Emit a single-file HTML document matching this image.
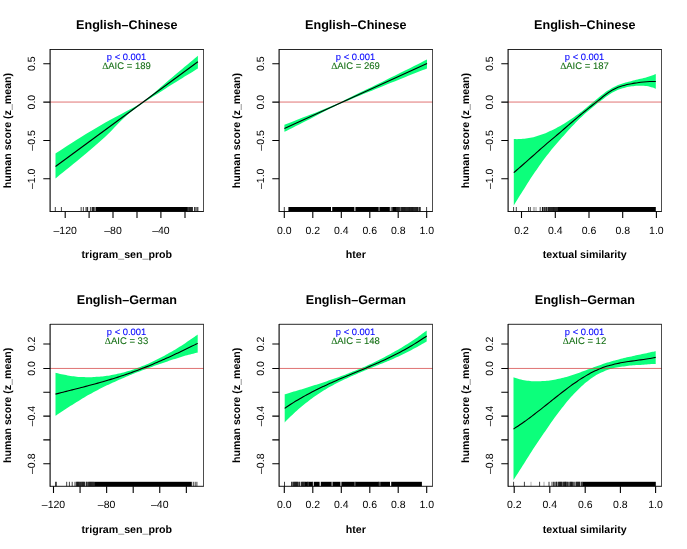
<!DOCTYPE html>
<html>
<head>
<meta charset="utf-8">
<title>GAM smooth plots</title>
<style>
html, body { margin: 0; padding: 0; background: #ffffff; }
body { width: 687px; height: 549px; overflow: hidden; font-family: "Liberation Sans", sans-serif; }
svg { display: block; will-change: transform; }
svg text { font-family: "Liberation Sans", sans-serif; text-rendering: geometricPrecision; }
</style>
</head>
<body>
<svg width="687" height="549" viewBox="0 0 687 549">
<rect x="0" y="0" width="687" height="549" fill="#ffffff"/>
<clipPath id="c00"><rect x="50.10" y="49.50" width="153.40" height="162.00"/></clipPath>
<text x="126.80" y="28.70" font-size="12.6" font-weight="bold" text-anchor="middle">English–Chinese</text>
<g clip-path="url(#c00)">
<path d="M55.50 153.60 C59.58 150.97 71.75 142.93 80.00 137.80 C88.25 132.67 97.50 127.12 105.00 122.80 C112.50 118.48 119.17 115.08 125.00 111.90 C130.83 108.72 135.83 106.32 140.00 103.70 C144.17 101.08 145.83 99.57 150.00 96.20 C154.17 92.83 160.00 87.73 165.00 83.50 C170.00 79.27 174.52 75.42 180.00 70.80 C185.48 66.18 194.92 58.30 197.90 55.80 L197.90 68.60 C194.92 70.43 185.48 76.20 180.00 79.60 C174.52 83.00 170.00 85.85 165.00 89.00 C160.00 92.15 154.17 95.78 150.00 98.50 C145.83 101.22 144.17 102.23 140.00 105.30 C135.83 108.37 130.83 111.63 125.00 116.90 C119.17 122.17 112.50 129.95 105.00 136.90 C97.50 143.85 88.25 151.67 80.00 158.60 C71.75 165.53 59.58 175.18 55.50 178.50 Z" fill="#0cff7b"/>
</g>
<path d="M50.10 102.05H203.50" stroke="#d23c3c" stroke-width="0.85" opacity="0.85" fill="none"/>
<g clip-path="url(#c00)"><path d="M55.50 166.50 L197.90 61.80" fill="none" stroke="#000" stroke-width="1.1"/></g>
<rect x="95.50" y="207.00" width="92.00" height="4.50" fill="#000"/>
<path d="M55.30 207.00V211.50M61.40 207.00V211.50M81.15 207.00V211.50M83.35 207.00V211.50M86.00 207.00V211.50M87.10 207.00V211.50M87.65 207.00V211.50M90.40 207.00V211.50M92.05 207.00V211.50M92.60 207.00V211.50M93.15 207.00V211.50M93.70 207.00V211.50M94.25 207.00V211.50M187.50 207.00V211.50M188.60 207.00V211.50M189.15 207.00V211.50M189.70 207.00V211.50M190.25 207.00V211.50M190.80 207.00V211.50M191.35 207.00V211.50M191.90 207.00V211.50M192.45 207.00V211.50M194.50 207.00V211.50M195.80 207.00V211.50M197.00 207.00V211.50M197.90 207.00V211.50" stroke="#000" stroke-width="0.75" fill="none"/>
<path d="M50.10 49.10V211.90" stroke="#000" stroke-width="1.1" fill="none"/>
<path d="M50.10 49.50H203.85" stroke="#000" stroke-width="0.85" fill="none"/>
<path d="M203.50 49.50V211.90" stroke="#000" stroke-width="0.7" fill="none"/>
<path d="M50.10 211.50H203.50" stroke="#000" stroke-width="0.9" fill="none"/>
<path d="M65.20 211.50v6.6M89.10 211.50v6.6M113.00 211.50v6.6M137.00 211.50v6.6M160.90 211.50v6.6M185.00 211.50v6.6" stroke="#000" stroke-width="1.1" fill="none"/>
<text x="65.20" y="233.50" font-size="10.5" text-anchor="middle">–120</text>
<text x="113.00" y="233.50" font-size="10.5" text-anchor="middle">–80</text>
<text x="160.90" y="233.50" font-size="10.5" text-anchor="middle">–40</text>
<path d="M50.10 63.70h-6.8M50.10 102.10h-6.8M50.10 140.45h-6.8M50.10 178.80h-6.8" stroke="#000" stroke-width="1.1" fill="none"/>
<text transform="translate(35.45 63.70) rotate(-90)" font-size="10.5" text-anchor="middle">0.5</text>
<text transform="translate(35.45 102.10) rotate(-90)" font-size="10.5" text-anchor="middle">0.0</text>
<text transform="translate(35.45 140.45) rotate(-90)" font-size="10.5" text-anchor="middle">–0.5</text>
<text transform="translate(35.45 178.80) rotate(-90)" font-size="10.5" text-anchor="middle">–1.0</text>
<text x="126.80" y="258.00" font-size="10.65" font-weight="bold" text-anchor="middle">trigram_sen_prob</text>
<text transform="translate(11.20 130.50) rotate(-90)" font-size="10.65" font-weight="bold" text-anchor="middle">human score (z_mean)</text>
<text x="126.50" y="60.10" font-size="9.4" fill="#0000ff" stroke="#0000ff" stroke-width="0.08" text-anchor="middle">p &lt; 0.001</text>
<text x="126.50" y="68.70" font-size="9.52" fill="#156f15" stroke="#156f15" stroke-width="0.08" text-anchor="middle"><tspan font-family="Liberation Serif, serif">&#916;</tspan>AIC = 189</text>
<clipPath id="c10"><rect x="279.10" y="49.50" width="153.40" height="162.00"/></clipPath>
<text x="355.80" y="28.70" font-size="12.6" font-weight="bold" text-anchor="middle">English–Chinese</text>
<g clip-path="url(#c10)">
<path d="M284.40 124.80 C288.67 123.13 302.40 117.82 310.00 114.80 C317.60 111.78 324.58 108.97 330.00 106.70 C335.42 104.43 337.50 103.55 342.50 101.20 C347.50 98.85 352.92 96.07 360.00 92.60 C367.08 89.13 377.50 84.08 385.00 80.40 C392.50 76.72 398.00 74.00 405.00 70.50 C412.00 67.00 423.33 61.25 427.00 59.40 L427.00 68.60 C423.33 70.03 412.00 74.43 405.00 77.20 C398.00 79.97 392.50 82.17 385.00 85.20 C377.50 88.23 367.08 92.48 360.00 95.40 C352.92 98.32 347.50 100.50 342.50 102.70 C337.50 104.90 335.42 105.90 330.00 108.60 C324.58 111.30 317.60 115.03 310.00 118.90 C302.40 122.77 288.67 129.65 284.40 131.80 Z" fill="#0cff7b"/>
</g>
<path d="M279.10 102.05H432.50" stroke="#d23c3c" stroke-width="0.85" opacity="0.85" fill="none"/>
<g clip-path="url(#c10)"><path d="M284.40 128.50 L427.00 63.60" fill="none" stroke="#000" stroke-width="1.1"/></g>
<rect x="288.40" y="207.00" width="42.60" height="4.50" fill="#000"/>
<rect x="332.20" y="207.00" width="21.80" height="4.50" fill="#000"/>
<rect x="355.40" y="207.00" width="22.60" height="4.50" fill="#000"/>
<rect x="379.40" y="207.00" width="9.60" height="4.50" fill="#000"/>
<rect x="392.50" y="207.00" width="3.50" height="4.50" fill="#000"/>
<path d="M284.30 207.00V211.50M354.00 207.00V211.50M378.55 207.00V211.50M389.00 207.00V211.50M389.55 207.00V211.50M391.20 207.00V211.50M392.30 207.00V211.50M396.00 207.00V211.50M396.55 207.00V211.50M397.00 207.00V211.50M397.55 207.00V211.50M398.10 207.00V211.50M398.65 207.00V211.50M399.20 207.00V211.50M399.75 207.00V211.50M400.85 207.00V211.50M401.40 207.00V211.50M401.95 207.00V211.50M402.50 207.00V211.50M403.05 207.00V211.50M403.60 207.00V211.50M404.00 207.00V211.50M404.55 207.00V211.50M405.10 207.00V211.50M405.65 207.00V211.50M406.20 207.00V211.50M406.75 207.00V211.50M407.30 207.00V211.50M407.85 207.00V211.50M408.40 207.00V211.50M408.95 207.00V211.50M409.50 207.00V211.50M410.05 207.00V211.50M410.60 207.00V211.50M411.15 207.00V211.50M411.70 207.00V211.50M412.00 207.00V211.50M412.55 207.00V211.50M413.10 207.00V211.50M413.65 207.00V211.50M414.20 207.00V211.50M414.75 207.00V211.50M415.30 207.00V211.50M415.85 207.00V211.50M416.40 207.00V211.50M416.95 207.00V211.50M417.50 207.00V211.50M418.05 207.00V211.50M419.15 207.00V211.50M419.70 207.00V211.50M420.25 207.00V211.50M426.60 207.00V211.50" stroke="#000" stroke-width="0.75" fill="none"/>
<path d="M279.10 49.10V211.90" stroke="#000" stroke-width="1.1" fill="none"/>
<path d="M279.10 49.50H432.85" stroke="#000" stroke-width="0.85" fill="none"/>
<path d="M432.50 49.50V211.90" stroke="#000" stroke-width="0.7" fill="none"/>
<path d="M279.10 211.50H432.50" stroke="#000" stroke-width="0.9" fill="none"/>
<path d="M284.30 211.50v6.6M312.80 211.50v6.6M341.30 211.50v6.6M369.80 211.50v6.6M398.20 211.50v6.6M426.70 211.50v6.6" stroke="#000" stroke-width="1.1" fill="none"/>
<text x="284.30" y="233.50" font-size="10.5" text-anchor="middle">0.0</text>
<text x="312.80" y="233.50" font-size="10.5" text-anchor="middle">0.2</text>
<text x="341.30" y="233.50" font-size="10.5" text-anchor="middle">0.4</text>
<text x="369.80" y="233.50" font-size="10.5" text-anchor="middle">0.6</text>
<text x="398.20" y="233.50" font-size="10.5" text-anchor="middle">0.8</text>
<text x="426.70" y="233.50" font-size="10.5" text-anchor="middle">1.0</text>
<path d="M279.10 63.70h-6.8M279.10 102.10h-6.8M279.10 140.45h-6.8M279.10 178.80h-6.8" stroke="#000" stroke-width="1.1" fill="none"/>
<text transform="translate(264.45 63.70) rotate(-90)" font-size="10.5" text-anchor="middle">0.5</text>
<text transform="translate(264.45 102.10) rotate(-90)" font-size="10.5" text-anchor="middle">0.0</text>
<text transform="translate(264.45 140.45) rotate(-90)" font-size="10.5" text-anchor="middle">–0.5</text>
<text transform="translate(264.45 178.80) rotate(-90)" font-size="10.5" text-anchor="middle">–1.0</text>
<text x="355.80" y="258.00" font-size="10.65" font-weight="bold" text-anchor="middle">hter</text>
<text transform="translate(240.20 130.50) rotate(-90)" font-size="10.65" font-weight="bold" text-anchor="middle">human score (z_mean)</text>
<text x="355.50" y="60.10" font-size="9.4" fill="#0000ff" stroke="#0000ff" stroke-width="0.08" text-anchor="middle">p &lt; 0.001</text>
<text x="355.50" y="68.70" font-size="9.52" fill="#156f15" stroke="#156f15" stroke-width="0.08" text-anchor="middle"><tspan font-family="Liberation Serif, serif">&#916;</tspan>AIC = 269</text>
<clipPath id="c20"><rect x="508.10" y="49.50" width="153.40" height="162.00"/></clipPath>
<text x="584.80" y="28.70" font-size="12.6" font-weight="bold" text-anchor="middle">English–Chinese</text>
<g clip-path="url(#c20)">
<path d="M513.80 139.07 C514.30 139.08 515.81 139.14 516.82 139.14 C517.83 139.14 518.84 139.12 519.84 139.07 C520.85 139.02 521.86 138.95 522.86 138.85 C523.87 138.76 524.88 138.64 525.89 138.50 C526.89 138.36 527.90 138.19 528.91 138.01 C529.91 137.82 530.92 137.62 531.93 137.39 C532.93 137.16 533.94 136.91 534.95 136.64 C535.96 136.37 536.96 136.08 537.97 135.77 C538.98 135.46 539.98 135.12 540.99 134.77 C542.00 134.42 543.01 134.05 544.01 133.66 C545.02 133.28 546.03 132.87 547.03 132.44 C548.04 132.01 549.05 131.57 550.06 131.11 C551.06 130.65 552.07 130.17 553.08 129.67 C554.08 129.17 555.09 128.66 556.10 128.13 C557.10 127.60 558.11 127.05 559.12 126.48 C560.13 125.92 561.13 125.34 562.14 124.75 C563.15 124.15 564.15 123.54 565.16 122.91 C566.17 122.29 567.18 121.65 568.18 120.99 C569.19 120.34 570.20 119.67 571.20 118.99 C572.21 118.30 573.22 117.60 574.23 116.89 C575.23 116.18 576.24 115.46 577.25 114.72 C578.25 113.99 579.26 113.24 580.27 112.47 C581.28 111.71 582.28 110.94 583.29 110.15 C584.30 109.37 585.30 108.57 586.31 107.76 C587.32 106.96 588.32 106.14 589.33 105.31 C590.34 104.49 591.35 103.66 592.35 102.83 C593.36 102.00 594.37 101.16 595.37 100.33 C596.38 99.49 597.39 98.66 598.40 97.83 C599.40 97.00 600.41 96.16 601.42 95.35 C602.42 94.54 603.43 93.72 604.44 92.96 C605.45 92.21 606.45 91.48 607.46 90.81 C608.47 90.13 609.47 89.51 610.48 88.92 C611.49 88.33 612.50 87.79 613.50 87.28 C614.51 86.77 615.52 86.30 616.52 85.86 C617.53 85.42 618.54 85.01 619.54 84.62 C620.55 84.24 621.56 83.89 622.57 83.55 C623.57 83.21 624.58 82.91 625.59 82.61 C626.59 82.31 627.60 82.04 628.61 81.77 C629.62 81.50 630.62 81.25 631.63 81.00 C632.64 80.76 633.64 80.52 634.65 80.29 C635.66 80.05 636.67 79.82 637.67 79.58 C638.68 79.35 639.69 79.11 640.69 78.87 C641.70 78.62 642.71 78.38 643.71 78.11 C644.72 77.85 645.73 77.58 646.74 77.29 C647.74 77.00 648.75 76.70 649.76 76.37 C650.76 76.04 651.77 75.70 652.78 75.32 C653.79 74.95 655.30 74.32 655.80 74.12 L655.80 88.88 C655.30 88.67 653.79 87.96 652.78 87.60 C651.77 87.23 650.76 86.93 649.76 86.68 C648.75 86.43 647.74 86.24 646.74 86.09 C645.73 85.93 644.72 85.83 643.71 85.76 C642.71 85.69 641.70 85.66 640.69 85.65 C639.69 85.64 638.68 85.67 637.67 85.71 C636.67 85.76 635.66 85.83 634.65 85.92 C633.64 86.02 632.64 86.14 631.63 86.28 C630.62 86.42 629.62 86.58 628.61 86.77 C627.60 86.95 626.59 87.16 625.59 87.39 C624.58 87.63 623.57 87.89 622.57 88.19 C621.56 88.49 620.55 88.81 619.54 89.18 C618.54 89.55 617.53 89.96 616.52 90.41 C615.52 90.86 614.51 91.35 613.50 91.89 C612.50 92.43 611.49 93.03 610.48 93.66 C609.47 94.29 608.47 94.98 607.46 95.69 C606.45 96.40 605.45 97.14 604.44 97.90 C603.43 98.65 602.42 99.43 601.42 100.22 C600.41 101.00 599.40 101.81 598.40 102.61 C597.39 103.41 596.38 104.21 595.37 105.02 C594.37 105.82 593.36 106.62 592.35 107.44 C591.35 108.26 590.34 109.08 589.33 109.92 C588.32 110.76 587.32 111.61 586.31 112.48 C585.30 113.36 584.30 114.26 583.29 115.18 C582.28 116.11 581.28 117.06 580.27 118.04 C579.26 119.01 578.25 120.01 577.25 121.03 C576.24 122.04 575.23 123.08 574.23 124.13 C573.22 125.18 572.21 126.26 571.20 127.34 C570.20 128.42 569.19 129.52 568.18 130.62 C567.18 131.73 566.17 132.85 565.16 133.97 C564.15 135.09 563.15 136.23 562.14 137.36 C561.13 138.50 560.13 139.65 559.12 140.80 C558.11 141.96 557.10 143.12 556.10 144.30 C555.09 145.47 554.08 146.66 553.08 147.87 C552.07 149.08 551.06 150.30 550.06 151.55 C549.05 152.80 548.04 154.07 547.03 155.37 C546.03 156.67 545.02 158.00 544.01 159.34 C543.01 160.69 542.00 162.07 540.99 163.46 C539.98 164.86 538.98 166.28 537.97 167.71 C536.96 169.15 535.96 170.61 534.95 172.09 C533.94 173.57 532.93 175.07 531.93 176.59 C530.92 178.11 529.91 179.65 528.91 181.20 C527.90 182.75 526.89 184.32 525.89 185.90 C524.88 187.49 523.87 189.09 522.86 190.70 C521.86 192.31 520.85 193.94 519.84 195.58 C518.84 197.21 517.83 198.87 516.82 200.53 C515.81 202.19 514.30 204.70 513.80 205.54 Z" fill="#0cff7b"/>
</g>
<path d="M508.10 102.05H661.50" stroke="#d23c3c" stroke-width="0.85" opacity="0.85" fill="none"/>
<g clip-path="url(#c20)"><path d="M513.80 172.62 C514.30 172.19 515.81 170.91 516.82 170.04 C517.83 169.18 518.84 168.31 519.84 167.43 C520.85 166.55 521.86 165.67 522.86 164.78 C523.87 163.90 524.88 163.01 525.89 162.12 C526.89 161.22 527.90 160.33 528.91 159.43 C529.91 158.54 530.92 157.64 531.93 156.74 C532.93 155.84 533.94 154.95 534.95 154.05 C535.96 153.16 536.96 152.26 537.97 151.37 C538.98 150.48 539.98 149.59 540.99 148.70 C542.00 147.82 543.01 146.94 544.01 146.06 C545.02 145.19 546.03 144.32 547.03 143.45 C548.04 142.59 549.05 141.74 550.06 140.88 C551.06 140.03 552.07 139.18 553.08 138.33 C554.08 137.49 555.09 136.64 556.10 135.79 C557.10 134.94 558.11 134.09 559.12 133.23 C560.13 132.37 561.13 131.51 562.14 130.64 C563.15 129.78 564.15 128.91 565.16 128.03 C566.17 127.16 567.18 126.29 568.18 125.41 C569.19 124.54 570.20 123.67 571.20 122.79 C572.21 121.92 573.22 121.05 574.23 120.18 C575.23 119.32 576.24 118.45 577.25 117.60 C578.25 116.74 579.26 115.89 580.27 115.04 C581.28 114.20 582.28 113.36 583.29 112.53 C584.30 111.71 585.30 110.89 586.31 110.08 C587.32 109.27 588.32 108.47 589.33 107.66 C590.34 106.86 591.35 106.07 592.35 105.26 C593.36 104.46 594.37 103.66 595.37 102.85 C596.38 102.04 597.39 101.22 598.40 100.41 C599.40 99.59 600.41 98.76 601.42 97.95 C602.42 97.14 603.43 96.33 604.44 95.56 C605.45 94.78 606.45 94.02 607.46 93.30 C608.47 92.59 609.47 91.89 610.48 91.26 C611.49 90.63 612.50 90.04 613.50 89.50 C614.51 88.97 615.52 88.49 616.52 88.04 C617.53 87.60 618.54 87.20 619.54 86.83 C620.55 86.47 621.56 86.14 622.57 85.84 C623.57 85.53 624.58 85.26 625.59 85.01 C626.59 84.75 627.60 84.52 628.61 84.30 C629.62 84.08 630.62 83.87 631.63 83.68 C632.64 83.49 633.64 83.31 634.65 83.14 C635.66 82.97 636.67 82.81 637.67 82.67 C638.68 82.52 639.69 82.39 640.69 82.27 C641.70 82.16 642.71 82.05 643.71 81.96 C644.72 81.86 645.73 81.78 646.74 81.71 C647.74 81.64 648.75 81.59 649.76 81.54 C650.76 81.50 651.77 81.47 652.78 81.45 C653.79 81.43 655.30 81.44 655.80 81.44" fill="none" stroke="#000" stroke-width="1.1"/></g>
<path d="M533.40 207.00V211.50" stroke="#000" stroke-width="0.75" opacity="0.4" fill="none"/>
<path d="M534.80 207.00V211.50" stroke="#000" stroke-width="0.75" opacity="0.5" fill="none"/>
<path d="M536.20 207.00V211.50" stroke="#000" stroke-width="0.75" opacity="0.4" fill="none"/>
<rect x="557.50" y="207.00" width="98.30" height="4.50" fill="#000"/>
<path d="M513.60 207.00V211.50M516.30 207.00V211.50M528.50 207.00V211.50M530.30 207.00V211.50M540.20 207.00V211.50M542.40 207.00V211.50M542.50 207.00V211.50M543.05 207.00V211.50M544.15 207.00V211.50M544.70 207.00V211.50M545.80 207.00V211.50M546.35 207.00V211.50M546.90 207.00V211.50M548.00 207.00V211.50M548.55 207.00V211.50M549.10 207.00V211.50M549.65 207.00V211.50M550.20 207.00V211.50M550.75 207.00V211.50M551.30 207.00V211.50M551.85 207.00V211.50M552.40 207.00V211.50M552.95 207.00V211.50M553.50 207.00V211.50M554.05 207.00V211.50M554.60 207.00V211.50M555.15 207.00V211.50M555.70 207.00V211.50M556.25 207.00V211.50M556.80 207.00V211.50M557.35 207.00V211.50" stroke="#000" stroke-width="0.75" fill="none"/>
<path d="M508.10 49.10V211.90" stroke="#000" stroke-width="1.1" fill="none"/>
<path d="M508.10 49.50H661.85" stroke="#000" stroke-width="0.85" fill="none"/>
<path d="M661.50 49.50V211.90" stroke="#000" stroke-width="0.7" fill="none"/>
<path d="M508.10 211.50H661.50" stroke="#000" stroke-width="0.9" fill="none"/>
<path d="M521.50 211.50v6.6M555.30 211.50v6.6M589.00 211.50v6.6M622.70 211.50v6.6M656.40 211.50v6.6" stroke="#000" stroke-width="1.1" fill="none"/>
<text x="521.50" y="233.50" font-size="10.5" text-anchor="middle">0.2</text>
<text x="555.30" y="233.50" font-size="10.5" text-anchor="middle">0.4</text>
<text x="589.00" y="233.50" font-size="10.5" text-anchor="middle">0.6</text>
<text x="622.70" y="233.50" font-size="10.5" text-anchor="middle">0.8</text>
<text x="656.40" y="233.50" font-size="10.5" text-anchor="middle">1.0</text>
<path d="M508.10 63.70h-6.8M508.10 102.10h-6.8M508.10 140.45h-6.8M508.10 178.80h-6.8" stroke="#000" stroke-width="1.1" fill="none"/>
<text transform="translate(493.45 63.70) rotate(-90)" font-size="10.5" text-anchor="middle">0.5</text>
<text transform="translate(493.45 102.10) rotate(-90)" font-size="10.5" text-anchor="middle">0.0</text>
<text transform="translate(493.45 140.45) rotate(-90)" font-size="10.5" text-anchor="middle">–0.5</text>
<text transform="translate(493.45 178.80) rotate(-90)" font-size="10.5" text-anchor="middle">–1.0</text>
<text x="584.80" y="258.00" font-size="10.65" font-weight="bold" text-anchor="middle">textual similarity</text>
<text transform="translate(469.20 130.50) rotate(-90)" font-size="10.65" font-weight="bold" text-anchor="middle">human score (z_mean)</text>
<text x="584.50" y="60.10" font-size="9.4" fill="#0000ff" stroke="#0000ff" stroke-width="0.08" text-anchor="middle">p &lt; 0.001</text>
<text x="584.50" y="68.70" font-size="9.52" fill="#156f15" stroke="#156f15" stroke-width="0.08" text-anchor="middle"><tspan font-family="Liberation Serif, serif">&#916;</tspan>AIC = 187</text>
<clipPath id="c01"><rect x="50.10" y="324.30" width="153.40" height="162.00"/></clipPath>
<text x="126.80" y="304.10" font-size="12.6" font-weight="bold" text-anchor="middle">English–German</text>
<g clip-path="url(#c01)">
<path d="M55.50 372.63 C56.00 372.76 57.52 373.19 58.53 373.44 C59.53 373.70 60.54 373.95 61.55 374.18 C62.56 374.41 63.57 374.63 64.58 374.83 C65.59 375.04 66.59 375.23 67.60 375.40 C68.61 375.58 69.62 375.74 70.63 375.90 C71.64 376.05 72.64 376.18 73.65 376.31 C74.66 376.43 75.67 376.55 76.68 376.65 C77.69 376.74 78.70 376.83 79.70 376.90 C80.71 376.98 81.72 377.04 82.73 377.08 C83.74 377.13 84.75 377.17 85.76 377.19 C86.76 377.21 87.77 377.22 88.78 377.22 C89.79 377.22 90.80 377.20 91.81 377.18 C92.81 377.15 93.82 377.11 94.83 377.06 C95.84 377.01 96.85 376.94 97.86 376.87 C98.87 376.79 99.87 376.70 100.88 376.60 C101.89 376.50 102.90 376.39 103.91 376.27 C104.92 376.14 105.93 376.01 106.93 375.86 C107.94 375.71 108.95 375.56 109.96 375.39 C110.97 375.22 111.98 375.03 112.99 374.84 C113.99 374.65 115.00 374.44 116.01 374.23 C117.02 374.01 118.03 373.78 119.04 373.54 C120.04 373.31 121.05 373.06 122.06 372.80 C123.07 372.54 124.08 372.26 125.09 371.98 C126.10 371.70 127.10 371.41 128.11 371.10 C129.12 370.80 130.13 370.48 131.14 370.16 C132.15 369.83 133.16 369.49 134.16 369.15 C135.17 368.80 136.18 368.44 137.19 368.07 C138.20 367.70 139.21 367.33 140.21 366.94 C141.22 366.55 142.23 366.15 143.24 365.74 C144.25 365.33 145.26 364.91 146.27 364.48 C147.27 364.05 148.28 363.61 149.29 363.16 C150.30 362.71 151.31 362.25 152.32 361.78 C153.33 361.32 154.33 360.84 155.34 360.35 C156.35 359.86 157.36 359.36 158.37 358.85 C159.38 358.34 160.39 357.83 161.39 357.30 C162.40 356.77 163.41 356.24 164.42 355.69 C165.43 355.14 166.44 354.59 167.44 354.02 C168.45 353.46 169.46 352.89 170.47 352.30 C171.48 351.72 172.49 351.13 173.50 350.53 C174.50 349.93 175.51 349.32 176.52 348.70 C177.53 348.08 178.54 347.45 179.55 346.82 C180.56 346.18 181.56 345.54 182.57 344.89 C183.58 344.23 184.59 343.57 185.60 342.90 C186.61 342.23 187.61 341.55 188.62 340.86 C189.63 340.18 190.64 339.48 191.65 338.78 C192.66 338.07 193.67 337.36 194.67 336.64 C195.68 335.92 197.20 334.82 197.70 334.46 L197.70 352.45 C197.20 352.57 195.68 352.92 194.67 353.16 C193.67 353.41 192.66 353.66 191.65 353.93 C190.64 354.19 189.63 354.46 188.62 354.74 C187.61 355.02 186.61 355.30 185.60 355.59 C184.59 355.89 183.58 356.19 182.57 356.49 C181.56 356.79 180.56 357.10 179.55 357.42 C178.54 357.73 177.53 358.05 176.52 358.38 C175.51 358.70 174.50 359.03 173.50 359.37 C172.49 359.70 171.48 360.03 170.47 360.37 C169.46 360.71 168.45 361.06 167.44 361.40 C166.44 361.74 165.43 362.09 164.42 362.44 C163.41 362.79 162.40 363.14 161.39 363.49 C160.39 363.84 159.38 364.20 158.37 364.55 C157.36 364.91 156.35 365.26 155.34 365.62 C154.33 365.98 153.33 366.34 152.32 366.71 C151.31 367.07 150.30 367.44 149.29 367.81 C148.28 368.18 147.27 368.55 146.27 368.92 C145.26 369.30 144.25 369.67 143.24 370.05 C142.23 370.43 141.22 370.82 140.21 371.20 C139.21 371.59 138.20 371.98 137.19 372.37 C136.18 372.76 135.17 373.15 134.16 373.55 C133.16 373.95 132.15 374.35 131.14 374.76 C130.13 375.16 129.12 375.57 128.11 375.99 C127.10 376.40 126.10 376.82 125.09 377.24 C124.08 377.66 123.07 378.08 122.06 378.51 C121.05 378.94 120.04 379.38 119.04 379.82 C118.03 380.26 117.02 380.70 116.01 381.15 C115.00 381.60 113.99 382.05 112.99 382.51 C111.98 382.97 110.97 383.44 109.96 383.91 C108.95 384.38 107.94 384.86 106.93 385.35 C105.93 385.83 104.92 386.32 103.91 386.82 C102.90 387.32 101.89 387.82 100.88 388.33 C99.87 388.84 98.87 389.36 97.86 389.89 C96.85 390.41 95.84 390.95 94.83 391.49 C93.82 392.03 92.81 392.58 91.81 393.13 C90.80 393.69 89.79 394.25 88.78 394.82 C87.77 395.39 86.76 395.97 85.76 396.56 C84.75 397.14 83.74 397.73 82.73 398.33 C81.72 398.93 80.71 399.53 79.70 400.14 C78.70 400.76 77.69 401.37 76.68 401.99 C75.67 402.62 74.66 403.25 73.65 403.88 C72.64 404.52 71.64 405.16 70.63 405.80 C69.62 406.45 68.61 407.10 67.60 407.75 C66.59 408.41 65.59 409.07 64.58 409.74 C63.57 410.40 62.56 411.07 61.55 411.75 C60.54 412.42 59.53 413.10 58.53 413.79 C57.52 414.47 56.00 415.51 55.50 415.85 Z" fill="#0cff7b"/>
</g>
<path d="M50.10 368.45H203.50" stroke="#d23c3c" stroke-width="0.85" opacity="0.85" fill="none"/>
<g clip-path="url(#c01)"><path d="M55.50 394.14 C56.00 394.01 57.52 393.62 58.53 393.36 C59.53 393.10 60.54 392.84 61.55 392.58 C62.56 392.32 63.57 392.07 64.58 391.81 C65.59 391.55 66.59 391.29 67.60 391.04 C68.61 390.78 69.62 390.52 70.63 390.27 C71.64 390.01 72.64 389.75 73.65 389.49 C74.66 389.24 75.67 388.98 76.68 388.72 C77.69 388.46 78.70 388.20 79.70 387.94 C80.71 387.68 81.72 387.42 82.73 387.16 C83.74 386.89 84.75 386.63 85.76 386.37 C86.76 386.10 87.77 385.83 88.78 385.57 C89.79 385.30 90.80 385.03 91.81 384.76 C92.81 384.48 93.82 384.21 94.83 383.94 C95.84 383.66 96.85 383.38 97.86 383.10 C98.87 382.82 99.87 382.54 100.88 382.25 C101.89 381.97 102.90 381.68 103.91 381.39 C104.92 381.10 105.93 380.80 106.93 380.51 C107.94 380.21 108.95 379.91 109.96 379.61 C110.97 379.30 111.98 379.00 112.99 378.69 C113.99 378.38 115.00 378.06 116.01 377.74 C117.02 377.43 118.03 377.10 119.04 376.78 C120.04 376.45 121.05 376.12 122.06 375.79 C123.07 375.45 124.08 375.11 125.09 374.77 C126.10 374.43 127.10 374.08 128.11 373.73 C129.12 373.37 130.13 373.02 131.14 372.65 C132.15 372.29 133.16 371.92 134.16 371.55 C135.17 371.18 136.18 370.80 137.19 370.42 C138.20 370.04 139.21 369.66 140.21 369.27 C141.22 368.88 142.23 368.48 143.24 368.08 C144.25 367.68 145.26 367.28 146.27 366.87 C147.27 366.47 148.28 366.06 149.29 365.64 C150.30 365.23 151.31 364.81 152.32 364.39 C153.33 363.96 154.33 363.54 155.34 363.11 C156.35 362.68 157.36 362.24 158.37 361.81 C159.38 361.37 160.39 360.93 161.39 360.49 C162.40 360.04 163.41 359.60 164.42 359.15 C165.43 358.70 166.44 358.24 167.44 357.79 C168.45 357.33 169.46 356.87 170.47 356.41 C171.48 355.95 172.49 355.48 173.50 355.02 C174.50 354.55 175.51 354.08 176.52 353.61 C177.53 353.13 178.54 352.66 179.55 352.18 C180.56 351.71 181.56 351.23 182.57 350.74 C183.58 350.26 184.59 349.78 185.60 349.29 C186.61 348.81 187.61 348.32 188.62 347.83 C189.63 347.34 190.64 346.85 191.65 346.35 C192.66 345.86 193.67 345.37 194.67 344.87 C195.68 344.37 197.20 343.62 197.70 343.37" fill="none" stroke="#000" stroke-width="1.1"/></g>
<rect x="94.20" y="481.80" width="97.60" height="4.50" fill="#000"/>
<path d="M55.60 481.80V486.30M56.30 481.80V486.30M66.70 481.80V486.30M69.40 481.80V486.30M72.20 481.80V486.30M75.00 481.80V486.30M76.40 481.80V486.30M76.95 481.80V486.30M77.50 481.80V486.30M78.05 481.80V486.30M78.60 481.80V486.30M79.15 481.80V486.30M79.70 481.80V486.30M80.55 481.80V486.30M81.10 481.80V486.30M81.75 481.80V486.30M82.30 481.80V486.30M82.85 481.80V486.30M83.40 481.80V486.30M83.95 481.80V486.30M84.50 481.80V486.30M86.15 481.80V486.30M86.70 481.80V486.30M87.25 481.80V486.30M88.35 481.80V486.30M88.90 481.80V486.30M89.45 481.80V486.30M90.00 481.80V486.30M90.55 481.80V486.30M91.10 481.80V486.30M91.65 481.80V486.30M92.20 481.80V486.30M92.75 481.80V486.30M93.30 481.80V486.30M93.85 481.80V486.30M193.30 481.80V486.30M195.20 481.80V486.30M196.90 481.80V486.30" stroke="#000" stroke-width="0.75" fill="none"/>
<path d="M50.10 323.90V486.70" stroke="#000" stroke-width="1.1" fill="none"/>
<path d="M50.10 324.30H203.85" stroke="#000" stroke-width="0.85" fill="none"/>
<path d="M203.50 324.30V486.70" stroke="#000" stroke-width="0.7" fill="none"/>
<path d="M50.10 486.30H203.50" stroke="#000" stroke-width="0.9" fill="none"/>
<path d="M53.50 486.30v6.6M80.07 486.30v6.6M106.64 486.30v6.6M133.20 486.30v6.6M159.75 486.30v6.6M186.35 486.30v6.6" stroke="#000" stroke-width="1.1" fill="none"/>
<text x="53.50" y="508.30" font-size="10.5" text-anchor="middle">–120</text>
<text x="106.64" y="508.30" font-size="10.5" text-anchor="middle">–80</text>
<text x="159.75" y="508.30" font-size="10.5" text-anchor="middle">–40</text>
<path d="M50.10 344.05h-6.8M50.10 368.45h-6.8M50.10 392.20h-6.8M50.10 416.10h-6.8M50.10 439.85h-6.8M50.10 463.75h-6.8" stroke="#000" stroke-width="1.1" fill="none"/>
<text transform="translate(35.45 344.05) rotate(-90)" font-size="10.5" text-anchor="middle">0.2</text>
<text transform="translate(35.45 368.45) rotate(-90)" font-size="10.5" text-anchor="middle">0.0</text>
<text transform="translate(35.45 416.10) rotate(-90)" font-size="10.5" text-anchor="middle">–0.4</text>
<text transform="translate(35.45 463.75) rotate(-90)" font-size="10.5" text-anchor="middle">–0.8</text>
<text x="126.80" y="532.80" font-size="10.65" font-weight="bold" text-anchor="middle">trigram_sen_prob</text>
<text transform="translate(11.20 405.30) rotate(-90)" font-size="10.65" font-weight="bold" text-anchor="middle">human score (z_mean)</text>
<text x="126.50" y="334.90" font-size="9.4" fill="#0000ff" stroke="#0000ff" stroke-width="0.08" text-anchor="middle">p &lt; 0.001</text>
<text x="126.50" y="343.50" font-size="9.52" fill="#156f15" stroke="#156f15" stroke-width="0.08" text-anchor="middle"><tspan font-family="Liberation Serif, serif">&#916;</tspan>AIC = 33</text>
<clipPath id="c11"><rect x="279.10" y="324.30" width="153.40" height="162.00"/></clipPath>
<text x="355.80" y="304.10" font-size="12.6" font-weight="bold" text-anchor="middle">English–German</text>
<g clip-path="url(#c11)">
<path d="M284.70 394.32 C285.20 394.17 286.71 393.73 287.72 393.43 C288.73 393.13 289.74 392.82 290.74 392.52 C291.75 392.22 292.76 391.92 293.76 391.62 C294.77 391.32 295.78 391.02 296.79 390.71 C297.79 390.41 298.80 390.10 299.81 389.80 C300.81 389.49 301.82 389.19 302.83 388.88 C303.83 388.57 304.84 388.26 305.85 387.95 C306.86 387.64 307.86 387.33 308.87 387.01 C309.88 386.70 310.88 386.38 311.89 386.07 C312.90 385.75 313.91 385.43 314.91 385.11 C315.92 384.79 316.93 384.46 317.93 384.14 C318.94 383.81 319.95 383.48 320.96 383.15 C321.96 382.82 322.97 382.49 323.98 382.15 C324.98 381.82 325.99 381.48 327.00 381.14 C328.00 380.80 329.01 380.45 330.02 380.11 C331.03 379.76 332.03 379.41 333.04 379.05 C334.05 378.70 335.05 378.34 336.06 377.98 C337.07 377.62 338.08 377.26 339.08 376.89 C340.09 376.52 341.10 376.15 342.10 375.77 C343.11 375.40 344.12 375.02 345.13 374.63 C346.13 374.25 347.14 373.86 348.15 373.47 C349.15 373.08 350.16 372.68 351.17 372.28 C352.18 371.88 353.18 371.48 354.19 371.07 C355.20 370.66 356.20 370.24 357.21 369.82 C358.22 369.40 359.22 368.98 360.23 368.55 C361.24 368.12 362.25 367.68 363.25 367.24 C364.26 366.80 365.27 366.36 366.27 365.91 C367.28 365.46 368.29 365.00 369.30 364.54 C370.30 364.07 371.31 363.61 372.32 363.13 C373.32 362.66 374.33 362.18 375.34 361.69 C376.35 361.21 377.35 360.71 378.36 360.22 C379.37 359.72 380.37 359.21 381.38 358.70 C382.39 358.19 383.40 357.67 384.40 357.15 C385.41 356.62 386.42 356.09 387.42 355.55 C388.43 355.02 389.44 354.47 390.44 353.92 C391.45 353.37 392.46 352.81 393.47 352.24 C394.47 351.67 395.48 351.10 396.49 350.52 C397.49 349.94 398.50 349.35 399.51 348.75 C400.52 348.15 401.52 347.55 402.53 346.94 C403.54 346.32 404.54 345.70 405.55 345.07 C406.56 344.45 407.57 343.81 408.57 343.16 C409.58 342.52 410.59 341.87 411.59 341.20 C412.60 340.54 413.61 339.87 414.61 339.19 C415.62 338.51 416.63 337.82 417.64 337.13 C418.64 336.43 419.65 335.72 420.66 335.01 C421.66 334.29 422.67 333.57 423.68 332.84 C424.69 332.10 426.20 330.98 426.70 330.61 L426.70 341.62 C426.20 341.91 424.69 342.77 423.68 343.33 C422.67 343.90 421.66 344.46 420.66 345.02 C419.65 345.58 418.64 346.13 417.64 346.67 C416.63 347.22 415.62 347.76 414.61 348.30 C413.61 348.83 412.60 349.36 411.59 349.89 C410.59 350.41 409.58 350.93 408.57 351.45 C407.57 351.96 406.56 352.47 405.55 352.97 C404.54 353.47 403.54 353.97 402.53 354.46 C401.52 354.95 400.52 355.43 399.51 355.91 C398.50 356.39 397.49 356.86 396.49 357.32 C395.48 357.79 394.47 358.24 393.47 358.70 C392.46 359.15 391.45 359.59 390.44 360.03 C389.44 360.47 388.43 360.90 387.42 361.33 C386.42 361.76 385.41 362.19 384.40 362.61 C383.40 363.03 382.39 363.45 381.38 363.86 C380.37 364.28 379.37 364.69 378.36 365.10 C377.35 365.51 376.35 365.91 375.34 366.32 C374.33 366.73 373.32 367.13 372.32 367.54 C371.31 367.94 370.30 368.35 369.30 368.75 C368.29 369.16 367.28 369.57 366.27 369.97 C365.27 370.38 364.26 370.79 363.25 371.20 C362.25 371.61 361.24 372.03 360.23 372.45 C359.22 372.86 358.22 373.28 357.21 373.71 C356.20 374.13 355.20 374.56 354.19 374.99 C353.18 375.43 352.18 375.87 351.17 376.31 C350.16 376.76 349.15 377.21 348.15 377.66 C347.14 378.12 346.13 378.59 345.13 379.06 C344.12 379.53 343.11 380.01 342.10 380.50 C341.10 380.98 340.09 381.48 339.08 381.99 C338.08 382.49 337.07 383.01 336.06 383.53 C335.05 384.06 334.05 384.59 333.04 385.14 C332.03 385.68 331.03 386.24 330.02 386.81 C329.01 387.38 328.00 387.95 327.00 388.55 C325.99 389.14 324.98 389.74 323.98 390.36 C322.97 390.98 321.96 391.60 320.96 392.25 C319.95 392.89 318.94 393.55 317.93 394.22 C316.93 394.89 315.92 395.57 314.91 396.27 C313.91 396.97 312.90 397.69 311.89 398.42 C310.88 399.15 309.88 399.89 308.87 400.66 C307.86 401.42 306.86 402.20 305.85 402.99 C304.84 403.79 303.83 404.60 302.83 405.43 C301.82 406.26 300.81 407.11 299.81 407.98 C298.80 408.84 297.79 409.73 296.79 410.63 C295.78 411.54 294.77 412.46 293.76 413.40 C292.76 414.35 291.75 415.31 290.74 416.29 C289.74 417.28 288.73 418.28 287.72 419.30 C286.71 420.33 285.20 421.92 284.70 422.44 Z" fill="#0cff7b"/>
</g>
<path d="M279.10 368.45H432.50" stroke="#d23c3c" stroke-width="0.85" opacity="0.85" fill="none"/>
<g clip-path="url(#c11)"><path d="M284.70 408.35 C285.20 408.01 286.71 406.98 287.72 406.30 C288.73 405.63 289.74 404.97 290.74 404.33 C291.75 403.68 292.76 403.04 293.76 402.41 C294.77 401.78 295.78 401.16 296.79 400.56 C297.79 399.95 298.80 399.35 299.81 398.76 C300.81 398.17 301.82 397.59 302.83 397.02 C303.83 396.45 304.84 395.89 305.85 395.33 C306.86 394.78 307.86 394.23 308.87 393.70 C309.88 393.16 310.88 392.63 311.89 392.10 C312.90 391.58 313.91 391.06 314.91 390.55 C315.92 390.04 316.93 389.54 317.93 389.05 C318.94 388.55 319.95 388.06 320.96 387.57 C321.96 387.09 322.97 386.61 323.98 386.14 C324.98 385.66 325.99 385.20 327.00 384.73 C328.00 384.27 329.01 383.81 330.02 383.35 C331.03 382.90 332.03 382.45 333.04 382.00 C334.05 381.55 335.05 381.11 336.06 380.67 C337.07 380.23 338.08 379.79 339.08 379.36 C340.09 378.92 341.10 378.49 342.10 378.06 C343.11 377.63 344.12 377.20 345.13 376.78 C346.13 376.35 347.14 375.93 348.15 375.51 C349.15 375.08 350.16 374.66 351.17 374.24 C352.18 373.82 353.18 373.40 354.19 372.98 C355.20 372.56 356.20 372.14 357.21 371.72 C358.22 371.30 359.22 370.87 360.23 370.45 C361.24 370.03 362.25 369.61 363.25 369.18 C364.26 368.76 365.27 368.33 366.27 367.91 C367.28 367.48 368.29 367.05 369.30 366.62 C370.30 366.19 371.31 365.75 372.32 365.32 C373.32 364.88 374.33 364.44 375.34 364.00 C376.35 363.55 377.35 363.11 378.36 362.66 C379.37 362.20 380.37 361.75 381.38 361.29 C382.39 360.83 383.40 360.37 384.40 359.90 C385.41 359.43 386.42 358.96 387.42 358.48 C388.43 358.00 389.44 357.52 390.44 357.03 C391.45 356.54 392.46 356.04 393.47 355.54 C394.47 355.04 395.48 354.53 396.49 354.02 C397.49 353.50 398.50 352.98 399.51 352.45 C400.52 351.92 401.52 351.38 402.53 350.84 C403.54 350.29 404.54 349.74 405.55 349.18 C406.56 348.61 407.57 348.05 408.57 347.47 C409.58 346.89 410.59 346.30 411.59 345.70 C412.60 345.10 413.61 344.50 414.61 343.88 C415.62 343.26 416.63 342.64 417.64 342.00 C418.64 341.36 419.65 340.72 420.66 340.06 C421.66 339.40 422.67 338.73 423.68 338.05 C424.69 337.37 426.20 336.32 426.70 335.97" fill="none" stroke="#000" stroke-width="1.1"/></g>
<rect x="305.00" y="481.80" width="2.60" height="4.50" fill="#000"/>
<rect x="309.00" y="481.80" width="3.60" height="4.50" fill="#000"/>
<rect x="313.80" y="481.80" width="5.80" height="4.50" fill="#000"/>
<rect x="320.80" y="481.80" width="10.40" height="4.50" fill="#000"/>
<rect x="332.60" y="481.80" width="7.80" height="4.50" fill="#000"/>
<rect x="341.40" y="481.80" width="13.20" height="4.50" fill="#000"/>
<rect x="356.00" y="481.80" width="22.80" height="4.50" fill="#000"/>
<rect x="380.20" y="481.80" width="9.80" height="4.50" fill="#000"/>
<rect x="391.20" y="481.80" width="30.70" height="4.50" fill="#000"/>
<path d="M284.50 481.80V486.30M291.60 481.80V486.30M292.15 481.80V486.30M293.25 481.80V486.30M293.80 481.80V486.30M294.35 481.80V486.30M294.90 481.80V486.30M295.45 481.80V486.30M296.00 481.80V486.30M296.55 481.80V486.30M297.10 481.80V486.30M297.65 481.80V486.30M298.20 481.80V486.30M299.30 481.80V486.30M299.85 481.80V486.30M301.50 481.80V486.30M302.05 481.80V486.30M302.60 481.80V486.30M303.15 481.80V486.30M303.70 481.80V486.30M304.25 481.80V486.30M304.80 481.80V486.30M307.60 481.80V486.30M308.15 481.80V486.30M308.70 481.80V486.30M312.60 481.80V486.30M331.75 481.80V486.30M355.15 481.80V486.30M355.70 481.80V486.30M378.80 481.80V486.30M379.35 481.80V486.30" stroke="#000" stroke-width="0.75" fill="none"/>
<path d="M279.10 323.90V486.70" stroke="#000" stroke-width="1.1" fill="none"/>
<path d="M279.10 324.30H432.85" stroke="#000" stroke-width="0.85" fill="none"/>
<path d="M432.50 324.30V486.70" stroke="#000" stroke-width="0.7" fill="none"/>
<path d="M279.10 486.30H432.50" stroke="#000" stroke-width="0.9" fill="none"/>
<path d="M284.30 486.30v6.6M312.80 486.30v6.6M341.30 486.30v6.6M369.80 486.30v6.6M398.20 486.30v6.6M426.70 486.30v6.6" stroke="#000" stroke-width="1.1" fill="none"/>
<text x="284.30" y="508.30" font-size="10.5" text-anchor="middle">0.0</text>
<text x="312.80" y="508.30" font-size="10.5" text-anchor="middle">0.2</text>
<text x="341.30" y="508.30" font-size="10.5" text-anchor="middle">0.4</text>
<text x="369.80" y="508.30" font-size="10.5" text-anchor="middle">0.6</text>
<text x="398.20" y="508.30" font-size="10.5" text-anchor="middle">0.8</text>
<text x="426.70" y="508.30" font-size="10.5" text-anchor="middle">1.0</text>
<path d="M279.10 344.05h-6.8M279.10 368.45h-6.8M279.10 392.20h-6.8M279.10 416.10h-6.8M279.10 439.85h-6.8M279.10 463.75h-6.8" stroke="#000" stroke-width="1.1" fill="none"/>
<text transform="translate(264.45 344.05) rotate(-90)" font-size="10.5" text-anchor="middle">0.2</text>
<text transform="translate(264.45 368.45) rotate(-90)" font-size="10.5" text-anchor="middle">0.0</text>
<text transform="translate(264.45 416.10) rotate(-90)" font-size="10.5" text-anchor="middle">–0.4</text>
<text transform="translate(264.45 463.75) rotate(-90)" font-size="10.5" text-anchor="middle">–0.8</text>
<text x="355.80" y="532.80" font-size="10.65" font-weight="bold" text-anchor="middle">hter</text>
<text transform="translate(240.20 405.30) rotate(-90)" font-size="10.65" font-weight="bold" text-anchor="middle">human score (z_mean)</text>
<text x="355.50" y="334.90" font-size="9.4" fill="#0000ff" stroke="#0000ff" stroke-width="0.08" text-anchor="middle">p &lt; 0.001</text>
<text x="355.50" y="343.50" font-size="9.52" fill="#156f15" stroke="#156f15" stroke-width="0.08" text-anchor="middle"><tspan font-family="Liberation Serif, serif">&#916;</tspan>AIC = 148</text>
<clipPath id="c21"><rect x="508.10" y="324.30" width="153.40" height="162.00"/></clipPath>
<text x="584.80" y="304.10" font-size="12.6" font-weight="bold" text-anchor="middle">English–German</text>
<g clip-path="url(#c21)">
<path d="M513.50 377.34 C514.00 377.50 515.52 378.03 516.53 378.34 C517.53 378.65 518.54 378.93 519.55 379.19 C520.56 379.45 521.57 379.68 522.58 379.89 C523.59 380.10 524.59 380.28 525.60 380.45 C526.61 380.61 527.62 380.75 528.63 380.87 C529.64 380.99 530.64 381.09 531.65 381.16 C532.66 381.24 533.67 381.29 534.68 381.33 C535.69 381.36 536.70 381.37 537.70 381.37 C538.71 381.37 539.72 381.34 540.73 381.30 C541.74 381.26 542.75 381.20 543.76 381.12 C544.76 381.04 545.77 380.95 546.78 380.84 C547.79 380.73 548.80 380.60 549.81 380.45 C550.81 380.31 551.82 380.15 552.83 379.98 C553.84 379.81 554.85 379.62 555.86 379.42 C556.87 379.22 557.87 379.00 558.88 378.77 C559.89 378.55 560.90 378.31 561.91 378.05 C562.92 377.80 563.93 377.54 564.93 377.26 C565.94 376.99 566.95 376.70 567.96 376.41 C568.97 376.11 569.98 375.80 570.99 375.49 C571.99 375.17 573.00 374.85 574.01 374.52 C575.02 374.19 576.03 373.85 577.04 373.50 C578.04 373.15 579.05 372.80 580.06 372.44 C581.07 372.08 582.08 371.71 583.09 371.34 C584.10 370.97 585.10 370.60 586.11 370.22 C587.12 369.85 588.13 369.47 589.14 369.09 C590.15 368.71 591.16 368.33 592.16 367.96 C593.17 367.58 594.18 367.20 595.19 366.83 C596.20 366.46 597.21 366.09 598.21 365.73 C599.22 365.36 600.23 365.00 601.24 364.65 C602.25 364.29 603.26 363.94 604.27 363.60 C605.27 363.27 606.28 362.93 607.29 362.61 C608.30 362.29 609.31 361.98 610.32 361.68 C611.33 361.37 612.33 361.08 613.34 360.80 C614.35 360.51 615.36 360.24 616.37 359.97 C617.38 359.70 618.39 359.44 619.39 359.19 C620.40 358.93 621.41 358.68 622.42 358.44 C623.43 358.20 624.44 357.96 625.44 357.73 C626.45 357.50 627.46 357.27 628.47 357.05 C629.48 356.82 630.49 356.60 631.50 356.39 C632.50 356.17 633.51 355.95 634.52 355.74 C635.53 355.53 636.54 355.32 637.55 355.10 C638.56 354.89 639.56 354.68 640.57 354.47 C641.58 354.26 642.59 354.05 643.60 353.84 C644.61 353.63 645.61 353.42 646.62 353.20 C647.63 352.98 648.64 352.77 649.65 352.55 C650.66 352.33 651.67 352.10 652.67 351.87 C653.68 351.65 655.20 351.29 655.70 351.18 L655.70 363.93 C655.20 363.96 653.68 364.04 652.67 364.09 C651.67 364.15 650.66 364.22 649.65 364.28 C648.64 364.34 647.63 364.41 646.62 364.48 C645.61 364.55 644.61 364.62 643.60 364.69 C642.59 364.76 641.58 364.83 640.57 364.91 C639.56 364.98 638.56 365.05 637.55 365.12 C636.54 365.20 635.53 365.27 634.52 365.34 C633.51 365.41 632.50 365.49 631.50 365.57 C630.49 365.65 629.48 365.73 628.47 365.82 C627.46 365.92 626.45 366.02 625.44 366.13 C624.44 366.24 623.43 366.36 622.42 366.50 C621.41 366.64 620.40 366.79 619.39 366.96 C618.39 367.13 617.38 367.31 616.37 367.52 C615.36 367.73 614.35 367.95 613.34 368.20 C612.33 368.45 611.33 368.72 610.32 369.02 C609.31 369.32 608.30 369.64 607.29 370.00 C606.28 370.35 605.27 370.74 604.27 371.15 C603.26 371.57 602.25 372.01 601.24 372.50 C600.23 372.98 599.22 373.49 598.21 374.04 C597.21 374.59 596.20 375.18 595.19 375.80 C594.18 376.43 593.17 377.09 592.16 377.78 C591.16 378.47 590.15 379.20 589.14 379.96 C588.13 380.72 587.12 381.51 586.11 382.34 C585.10 383.16 584.10 384.02 583.09 384.91 C582.08 385.80 581.07 386.73 580.06 387.68 C579.05 388.63 578.04 389.62 577.04 390.64 C576.03 391.65 575.02 392.70 574.01 393.78 C573.00 394.85 571.99 395.96 570.99 397.09 C569.98 398.23 568.97 399.39 567.96 400.58 C566.95 401.77 565.94 403.00 564.93 404.24 C563.93 405.49 562.92 406.76 561.91 408.05 C560.90 409.35 559.89 410.67 558.88 412.01 C557.87 413.34 556.87 414.71 555.86 416.08 C554.85 417.46 553.84 418.86 552.83 420.27 C551.82 421.68 550.81 423.10 549.81 424.54 C548.80 425.98 547.79 427.43 546.78 428.89 C545.77 430.35 544.76 431.82 543.76 433.30 C542.75 434.78 541.74 436.27 540.73 437.77 C539.72 439.27 538.71 440.78 537.70 442.30 C536.70 443.81 535.69 445.34 534.68 446.87 C533.67 448.41 532.66 449.95 531.65 451.50 C530.64 453.05 529.64 454.61 528.63 456.18 C527.62 457.74 526.61 459.32 525.60 460.90 C524.59 462.49 523.59 464.08 522.58 465.68 C521.57 467.28 520.56 468.88 519.55 470.50 C518.54 472.11 517.53 473.73 516.53 475.36 C515.52 476.99 514.00 479.45 513.50 480.27 Z" fill="#0cff7b"/>
</g>
<path d="M508.10 368.45H661.50" stroke="#d23c3c" stroke-width="0.85" opacity="0.85" fill="none"/>
<g clip-path="url(#c21)"><path d="M513.50 428.94 C514.00 428.62 515.52 427.68 516.53 427.03 C517.53 426.38 518.54 425.72 519.55 425.04 C520.56 424.36 521.57 423.67 522.58 422.97 C523.59 422.27 524.59 421.55 525.60 420.83 C526.61 420.10 527.62 419.36 528.63 418.62 C529.64 417.87 530.64 417.12 531.65 416.35 C532.66 415.59 533.67 414.82 534.68 414.04 C535.69 413.27 536.70 412.48 537.70 411.69 C538.71 410.91 539.72 410.11 540.73 409.32 C541.74 408.52 542.75 407.72 543.76 406.91 C544.76 406.11 545.77 405.30 546.78 404.50 C547.79 403.69 548.80 402.88 549.81 402.08 C550.81 401.27 551.82 400.46 552.83 399.66 C553.84 398.86 554.85 398.05 555.86 397.25 C556.87 396.45 557.87 395.66 558.88 394.87 C559.89 394.08 560.90 393.29 561.91 392.51 C562.92 391.73 563.93 390.95 564.93 390.19 C565.94 389.42 566.95 388.66 567.96 387.91 C568.97 387.16 569.98 386.42 570.99 385.68 C571.99 384.95 573.00 384.23 574.01 383.52 C575.02 382.81 576.03 382.11 577.04 381.43 C578.04 380.74 579.05 380.07 580.06 379.41 C581.07 378.76 582.08 378.11 583.09 377.48 C584.10 376.86 585.10 376.24 586.11 375.65 C587.12 375.06 588.13 374.48 589.14 373.92 C590.15 373.36 591.16 372.82 592.16 372.30 C593.17 371.78 594.18 371.28 595.19 370.80 C596.20 370.32 597.21 369.86 598.21 369.43 C599.22 368.99 600.23 368.58 601.24 368.19 C602.25 367.80 603.26 367.43 604.27 367.08 C605.27 366.73 606.28 366.40 607.29 366.09 C608.30 365.78 609.31 365.49 610.32 365.21 C611.33 364.93 612.33 364.67 613.34 364.42 C614.35 364.17 615.36 363.94 616.37 363.72 C617.38 363.50 618.39 363.29 619.39 363.09 C620.40 362.89 621.41 362.71 622.42 362.53 C623.43 362.35 624.44 362.18 625.44 362.02 C626.45 361.85 627.46 361.70 628.47 361.55 C629.48 361.40 630.49 361.25 631.50 361.11 C632.50 360.97 633.51 360.83 634.52 360.69 C635.53 360.55 636.54 360.42 637.55 360.28 C638.56 360.14 639.56 360.01 640.57 359.87 C641.58 359.73 642.59 359.59 643.60 359.44 C644.61 359.30 645.61 359.15 646.62 359.00 C647.63 358.84 648.64 358.68 649.65 358.52 C650.66 358.35 651.67 358.17 652.67 357.99 C653.68 357.80 655.20 357.50 655.70 357.41" fill="none" stroke="#000" stroke-width="1.1"/></g>
<path d="M531.00 481.80V486.30" stroke="#000" stroke-width="0.75" opacity="0.4" fill="none"/>
<path d="M544.00 481.80V486.30" stroke="#000" stroke-width="0.75" opacity="0.45" fill="none"/>
<rect x="582.50" y="481.80" width="73.30" height="4.50" fill="#000"/>
<path d="M513.60 481.80V486.30M524.40 481.80V486.30M539.60 481.80V486.30M549.00 481.80V486.30M552.00 481.80V486.30M553.65 481.80V486.30M554.20 481.80V486.30M555.85 481.80V486.30M556.40 481.80V486.30M556.95 481.80V486.30M558.30 481.80V486.30M558.85 481.80V486.30M559.40 481.80V486.30M559.95 481.80V486.30M560.50 481.80V486.30M561.05 481.80V486.30M561.60 481.80V486.30M562.15 481.80V486.30M563.25 481.80V486.30M563.80 481.80V486.30M564.35 481.80V486.30M564.90 481.80V486.30M565.45 481.80V486.30M566.00 481.80V486.30M566.00 481.80V486.30M567.10 481.80V486.30M567.65 481.80V486.30M568.75 481.80V486.30M569.85 481.80V486.30M570.40 481.80V486.30M570.95 481.80V486.30M571.50 481.80V486.30M572.05 481.80V486.30M572.60 481.80V486.30M573.70 481.80V486.30M574.80 481.80V486.30M576.10 481.80V486.30M576.65 481.80V486.30M577.20 481.80V486.30M577.75 481.80V486.30M578.30 481.80V486.30M578.85 481.80V486.30M579.40 481.80V486.30M579.95 481.80V486.30M581.60 481.80V486.30M582.15 481.80V486.30" stroke="#000" stroke-width="0.75" fill="none"/>
<path d="M508.10 323.90V486.70" stroke="#000" stroke-width="1.1" fill="none"/>
<path d="M508.10 324.30H661.85" stroke="#000" stroke-width="0.85" fill="none"/>
<path d="M661.50 324.30V486.70" stroke="#000" stroke-width="0.7" fill="none"/>
<path d="M508.10 486.30H661.50" stroke="#000" stroke-width="0.9" fill="none"/>
<path d="M514.20 486.30v6.6M549.80 486.30v6.6M585.20 486.30v6.6M620.40 486.30v6.6M655.60 486.30v6.6" stroke="#000" stroke-width="1.1" fill="none"/>
<text x="514.20" y="508.30" font-size="10.5" text-anchor="middle">0.2</text>
<text x="549.80" y="508.30" font-size="10.5" text-anchor="middle">0.4</text>
<text x="585.20" y="508.30" font-size="10.5" text-anchor="middle">0.6</text>
<text x="620.40" y="508.30" font-size="10.5" text-anchor="middle">0.8</text>
<text x="655.60" y="508.30" font-size="10.5" text-anchor="middle">1.0</text>
<path d="M508.10 344.05h-6.8M508.10 368.45h-6.8M508.10 392.20h-6.8M508.10 416.10h-6.8M508.10 439.85h-6.8M508.10 463.75h-6.8" stroke="#000" stroke-width="1.1" fill="none"/>
<text transform="translate(493.45 344.05) rotate(-90)" font-size="10.5" text-anchor="middle">0.2</text>
<text transform="translate(493.45 368.45) rotate(-90)" font-size="10.5" text-anchor="middle">0.0</text>
<text transform="translate(493.45 416.10) rotate(-90)" font-size="10.5" text-anchor="middle">–0.4</text>
<text transform="translate(493.45 463.75) rotate(-90)" font-size="10.5" text-anchor="middle">–0.8</text>
<text x="584.80" y="532.80" font-size="10.65" font-weight="bold" text-anchor="middle">textual similarity</text>
<text transform="translate(469.20 405.30) rotate(-90)" font-size="10.65" font-weight="bold" text-anchor="middle">human score (z_mean)</text>
<text x="584.50" y="334.90" font-size="9.4" fill="#0000ff" stroke="#0000ff" stroke-width="0.08" text-anchor="middle">p &lt; 0.001</text>
<text x="584.50" y="343.50" font-size="9.52" fill="#156f15" stroke="#156f15" stroke-width="0.08" text-anchor="middle"><tspan font-family="Liberation Serif, serif">&#916;</tspan>AIC = 12</text>
</svg>
</body>
</html>
